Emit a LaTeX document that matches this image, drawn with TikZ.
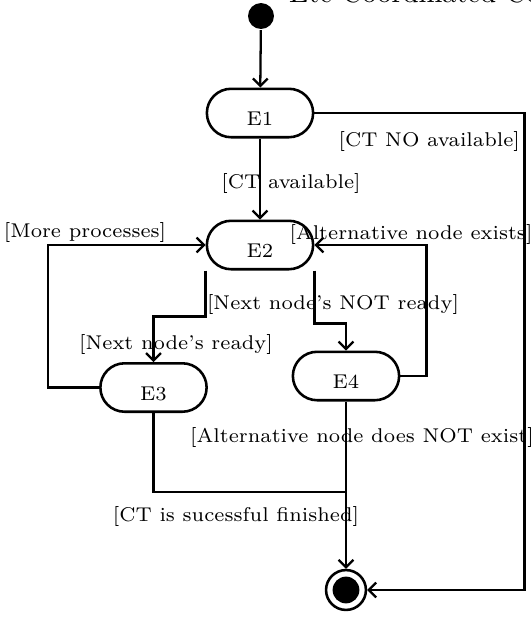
\documentclass[tikz,border=0pt]{standalone}
\usetikzlibrary{arrows.meta,shapes.misc}
\begin{document}
\begin{tikzpicture}[x=0.351pt,y=-0.351pt, line width=0.8pt,
  font=\fontsize{7}{8}\selectfont,
  state/.style={rounded rectangle, draw, line width=0.9pt, minimum width=37.3pt, minimum height=17pt, inner sep=0pt},
  stlab/.style={inner sep=0pt, yshift=-2.1pt},
  arr/.style={-{Straight Barb[length=2.6pt,width=5.2pt]}},
  lab/.style={inner sep=0pt}]
\useasboundingbox (0,0) rectangle (531,617);

\node[anchor=base west, font=\fontsize{10}{12}\selectfont, inner sep=0pt] (title) at (288,2) {Etc Coordinated Control};

\node[circle, fill, minimum size=9.1pt, inner sep=0pt] (init) at (261,16) {};
\node[state, label={[stlab]center:E1}] (E1) at (260,113) {};
\node[state, label={[stlab]center:E2}] (E2) at (260,245) {};
\node[state, label={[stlab]center:E3}] (E3) at (153.5,387.5) {};
\node[state, label={[stlab]center:E4}] (E4) at (346,376) {};
\node[circle, draw, line width=0.9pt, minimum size=14pt, inner sep=0pt] (fin) at (346,590) {};
\node[circle, fill, minimum size=9.4pt, inner sep=0pt] (finin) at (fin) {};

\coordinate (j) at (346,492);
\coordinate (e2sw) at (E2.west |- E2.south);
\coordinate (e2se) at (E2.east |- E2.south);

\draw[arr] (init) -- (E1);
\draw[arr] (E1) -- (E2);
\draw[arr] (E1.east) -- ++(210,0) |- (fin.east);
\draw[arr] (e2sw) -- ++(0,46) -| (E3.north);
\draw[arr] (e2se) -- ++(0,53) -| (E4.north);
\draw[arr] (E3.west) -- ++(-51,0) |- (E2.west);
\draw[arr] (E4.east) -- ++(26,0) |- (E2.east);
\draw[arr] (E4.south) -- (fin.north);
\draw (E3.south) |- (j);

\node[lab] (l1) at (291,184) {[CT available]};
\node[lab, anchor=east] (l2) at (521,142) {[CT NO available]};
\node[lab] (l3) at (85,233) {[More processes]};
\node[lab] (l4) at (411,235) {[Alternative node exists]};
\node[lab] (l5) at (333,305) {[Next node's NOT ready]};
\node[lab] (l6) at (176,345) {[Next node's ready]};
\node[lab] (l7) at (362,438) {[Alternative node does NOT exist]};
\node[lab] (l8) at (236,517) {[CT is sucessful finished]};
\end{tikzpicture}
\end{document}
